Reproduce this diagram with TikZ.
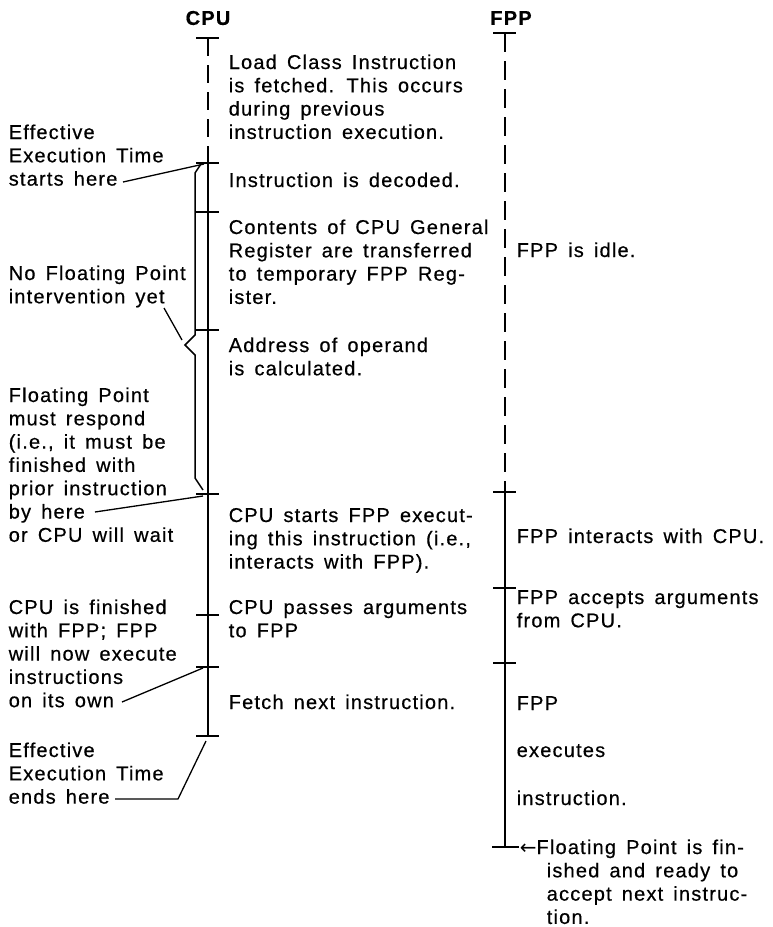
\documentclass[tikz,border=0pt]{standalone}
\usepackage{fontspec}
\setmainfont{Liberation Sans}[LetterSpace=6, WordSpace=1.5, FakeBold=0.5]
\newfontfamily\arrowfont{DejaVu Sans}
\usetikzlibrary{positioning}
\newcommand{\lanefont}{\fontsize{20}{23.3}\selectfont}

\begin{document}
\begin{tikzpicture}[x=1pt, y=-1pt, line width=1.5pt,
  note/.style={anchor=base west, align=left, inner sep=0pt, font=\lanefont},
  head/.style={inner sep=0pt, font=\lanefont\bfseries},
  leader/.style={line width=1.3pt}]
  \useasboundingbox (0,0) rectangle (772,927);
  % headings
  \node[head] (cpu) at (208,18) {CPU};
  \node[head] (fpp) at (511,18) {FPP};
  % CPU time line
  \coordinate (c0) at (208,38);
  \coordinate (c1) at (208,163);
  \coordinate (c7) at (208,736);
  \draw[dash pattern=on 18pt off 9pt] (c0) -- (c1);
  \draw (c1) -- (c7);
  \foreach \y in {38,163,212,330,494,615,667,736}
    \draw (196,\y) -- (219,\y);
  % FPP time line
  \coordinate (f0) at (505,33);
  \coordinate (f1) at (505,492);
  \coordinate (f4) at (505,847);
  \draw[dash pattern=on 19pt off 9pt] (f0) -- (f1);
  \draw (f1) -- (f4);
  \foreach \y in {33,492,588,663}
    \draw (493,\y) -- (516,\y);
  \draw (492,847) -- (519,847);
  % brace
  \draw (201,164) -- (195,173) -- (195,335) -- (185,345) -- (195,355)
    -- (195,478) -- (203,490);
  % CPU steps (base = last line)
  \node[note] (load) at (228,{69+3*23.3}) {Load Class Instruction\\is fetched. This occurs\\during previous\\instruction execution.};
  \node[note] (decode) at (228,187) {Instruction is decoded.};
  \node[note] (move) at (228,{234+3*23.3}) {Contents of CPU General\\Register are transferred\\to temporary FPP Reg-\\ister.};
  \node[note] (addr) at (228,{352+23.3}) {Address of operand\\is calculated.};
  \node[note] (start) at (228,{522+2*23.3}) {CPU starts FPP execut-\\ing this instruction (i.e.,\\interacts with FPP).};
  \node[note] (pass) at (228,{614+23.3}) {CPU passes arguments\\to FPP};
  \node[note] (fetch) at (228,709) {Fetch next instruction.};
  % FPP steps
  \node[note] (idle) at (516,257) {FPP is idle.};
  \node[note] (inter) at (516,543) {FPP interacts with CPU.};
  \node[note] (accept) at (516,{604+23.3}) {FPP accepts arguments\\from CPU.};
  \node[note] (exec1) at (516,710) {FPP};
  \node[note] (exec2) at (516,757) {executes};
  \node[note] (exec3) at (516,805) {instruction.};
  \node[note] (done) at (519,{854+3*23.3}) {{\arrowfont ←}Floating Point is fin-\\\hspace*{27pt}ished and ready to\\\hspace*{27pt}accept next instruc-\\\hspace*{27pt}tion.};
  % left remarks
  \node[note] (effs) at (8,{139+2*23.3}) {Effective\\Execution Time\\starts here};
  \node[note] (nofp) at (8,{280+23.3}) {No Floating Point\\intervention yet};
  \node[note] (resp) at (8,{402+6*23.3}) {Floating Point\\must respond\\(i.e., it must be\\finished with\\prior instruction\\by here\\or CPU will wait};
  \node[note] (own) at (8,{614+4*23.3}) {CPU is finished\\with FPP; FPP\\will now execute\\instructions\\on its own};
  \node[note] (effe) at (8,{757+2*23.3}) {Effective\\Execution Time\\ends here};
  % leaders
  \coordinate (effsend) at (123,182);
  \coordinate (nofpend) at (164,308);
  \coordinate (respend) at (95,512);
  \coordinate (ownend) at (122,702);
  \coordinate (effeend) at (115,799);
  \draw[leader] (effsend) -- (204,164);
  \draw[leader] (nofpend) -- (182,340);
  \draw[leader] (respend) -- (203,496);
  \draw[leader] (ownend) -- (203,668);
  \draw[leader] (effeend) -- (178,799) -- (206,741);
\end{tikzpicture}
\end{document}
